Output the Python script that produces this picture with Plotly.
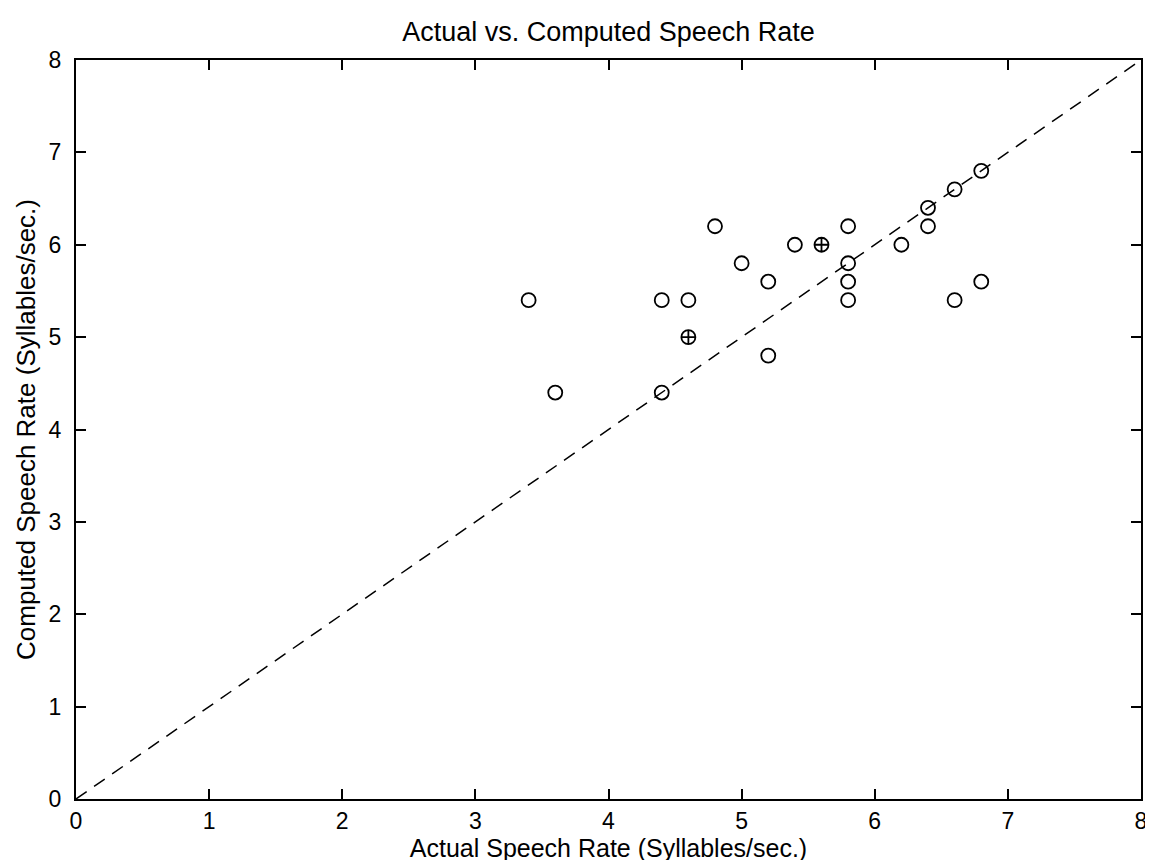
import plotly.graph_objects as go

# Actual vs computed speech rate (syllables/sec.)
actual_rate = [3.4, 3.6, 4.4, 4.4, 4.6, 4.8, 5.0, 5.2, 5.2, 5.4, 5.8, 5.8, 5.8, 5.8,
               6.2, 6.4, 6.4, 6.6, 6.6, 6.8, 6.8]
computed_rate = [5.4, 4.4, 5.4, 4.4, 5.4, 6.2, 5.8, 5.6, 4.8, 6.0, 6.2, 5.8, 5.6, 5.4,
                 6.0, 6.4, 6.2, 6.6, 5.4, 6.8, 5.6]

# points drawn with a crossed circle
actual_rate_x = [4.6, 5.6]
computed_rate_x = [5.0, 6.0]

# reference diagonal y = x
diag = [0, 8]

tick_vals = [0, 1, 2, 3, 4, 5, 6, 7, 8]
tick_text = ["0", "1", "2", "3", "4", "5", "6", "7", "8"]

FONT = "Liberation Sans, Arial, Helvetica, sans-serif"

fig = go.Figure()
fig.add_trace(go.Scatter(
    x=diag, y=diag, mode="lines",
    line=dict(color="black", width=1.5, dash="13px,9px"),
    showlegend=False, hoverinfo="skip"))
fig.add_trace(go.Scatter(
    x=actual_rate, y=computed_rate, mode="markers",
    marker=dict(symbol="circle-open", size=14, color="black",
                line=dict(color="black", width=1.8)),
    showlegend=False))
fig.add_trace(go.Scatter(
    x=actual_rate_x, y=computed_rate_x, mode="markers",
    marker=dict(symbol="circle-cross-open", size=14, color="black",
                line=dict(color="black", width=1.8)),
    showlegend=False))

axis_common = dict(
    range=[0, 8], tickmode="array", tickvals=tick_vals, ticktext=tick_text,
    ticks="inside", ticklen=10, tickwidth=1.5, tickcolor="black",
    showline=True, linecolor="black", linewidth=2, mirror="ticks",
    showgrid=False, zeroline=False,
    tickfont=dict(family=FONT, size=23, color="black"),
)

fig.update_layout(
    width=1153, height=860,
    margin=dict(l=68, r=20, t=52, b=69),
    paper_bgcolor="white", plot_bgcolor="white",
    title=dict(text="Actual vs. Computed Speech Rate",
               font=dict(family=FONT, size=27, color="black"),
               x=0.5, xref="paper", xanchor="center",
               y=1 - 24 / 860, yref="container", yanchor="middle"),
    xaxis=dict(**axis_common,
               title=dict(text="Actual Speech Rate (Syllables/sec.)",
                          font=dict(family=FONT, size=25, color="black"),
                          standoff=0),
               ticklabelstandoff=0),
    yaxis=dict(**axis_common,
               title=dict(text="Computed Speech Rate (Syllables/sec.)",
                          font=dict(family=FONT, size=26, color="black"),
                          standoff=6),
               ticklabelstandoff=8),
)

fig.write_html("out.html")
